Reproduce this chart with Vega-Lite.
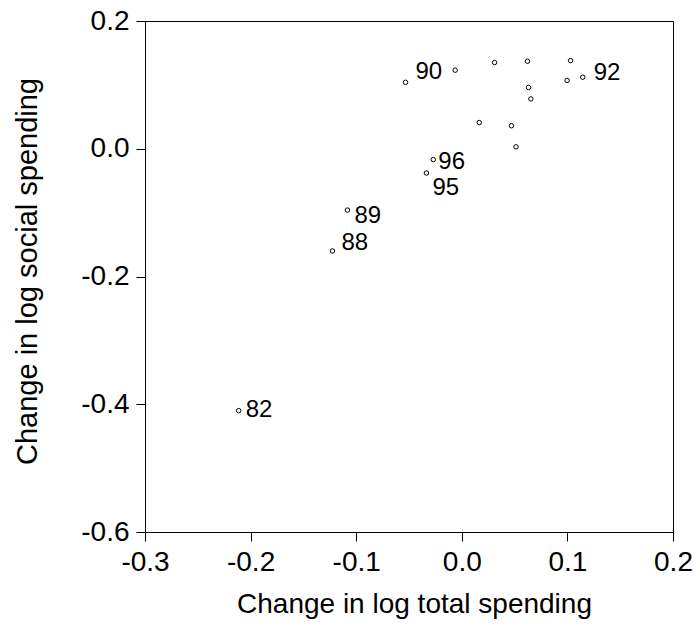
{
  "$schema": "https://vega.github.io/schema/vega-lite/v6.json",
  "autosize": {"type": "none"},
  "padding": {"left": 145, "top": 21, "right": 21, "bottom": 96},
  "width": 528,
  "height": 511,
  "background": "white",
  "config": {
    "font": "Liberation Sans",
    "view": {"stroke": "#000", "strokeWidth": 1},
    "axis": {
      "grid": false,
      "domainColor": "#000",
      "tickColor": "#000",
      "labelColor": "#000",
      "titleColor": "#000",
      "labelFont": "Liberation Sans",
      "titleFont": "Liberation Sans",
      "labelFontSize": 28,
      "titleFontSize": 29,
      "titleFontWeight": "normal",
      "tickSize": 9,
      "labelPadding": 7
    }
  },
  "data": {
    "values": [
      {"total": -0.0533, "social": 0.104, "label": "90"},
      {"total": -0.0063, "social": 0.123, "label": ""},
      {"total": 0.031, "social": 0.135, "label": ""},
      {"total": 0.0622, "social": 0.137, "label": ""},
      {"total": 0.103, "social": 0.138, "label": ""},
      {"total": 0.0997, "social": 0.107, "label": ""},
      {"total": 0.1145, "social": 0.112, "label": "92"},
      {"total": 0.0632, "social": 0.096, "label": ""},
      {"total": 0.0654, "social": 0.078, "label": ""},
      {"total": 0.0165, "social": 0.041, "label": ""},
      {"total": 0.047, "social": 0.036, "label": ""},
      {"total": 0.0513, "social": 0.003, "label": ""},
      {"total": -0.027, "social": -0.017, "label": "96"},
      {"total": -0.0335, "social": -0.038, "label": "95"},
      {"total": -0.1083, "social": -0.096, "label": "89"},
      {"total": -0.1225, "social": -0.16, "label": "88"},
      {"total": -0.2113, "social": -0.41, "label": "82"}
    ]
  },
  "encoding": {
    "x": {
      "field": "total",
      "type": "quantitative",
      "scale": {"domain": [-0.3, 0.2], "nice": false, "zero": false},
      "axis": {
        "title": "Change in log total spending",
        "titleFontSize": 28,
        "titleX": 269,
        "values": [-0.3, -0.2, -0.1, 0, 0.1, 0.2],
        "labelExpr": "replace(format(datum.value, '.1f'), '\u2212', '-')",
        "titlePadding": 14,
        "labelFlush": false,
        "labelOverlap": false
      }
    },
    "y": {
      "field": "social",
      "type": "quantitative",
      "scale": {"domain": [-0.6, 0.2], "nice": false, "zero": false},
      "axis": {
        "title": "Change in log social spending",
        "titleY": 250,
        "values": [-0.6, -0.4, -0.2, 0, 0.2],
        "labelExpr": "replace(format(datum.value, '.1f'), '\u2212', '-')",
        "titlePadding": 38,
        "labelFlush": false,
        "labelOverlap": false
      }
    }
  },
  "layer": [
    {"mark": {"type": "point", "shape": "circle", "size": 20, "filled": false, "stroke": "#000", "strokeWidth": 1, "opacity": 1}},
    {"transform": [{"filter": "datum.label == '82'"}], "mark": {"type": "text", "align": "left", "baseline": "middle", "fontSize": 24, "dx": 7, "dy": -1, "color": "#000"}, "encoding": {"text": {"field": "label"}}},
    {"transform": [{"filter": "datum.label == '88'"}], "mark": {"type": "text", "align": "left", "baseline": "middle", "fontSize": 24, "dx": 9, "dy": -8, "color": "#000"}, "encoding": {"text": {"field": "label"}}},
    {"transform": [{"filter": "datum.label == '89'"}], "mark": {"type": "text", "align": "left", "baseline": "middle", "fontSize": 24, "dx": 7, "dy": 6, "color": "#000"}, "encoding": {"text": {"field": "label"}}},
    {"transform": [{"filter": "datum.label == '90'"}], "mark": {"type": "text", "align": "left", "baseline": "middle", "fontSize": 24, "dx": 10, "dy": -10, "color": "#000"}, "encoding": {"text": {"field": "label"}}},
    {"transform": [{"filter": "datum.label == '92'"}], "mark": {"type": "text", "align": "left", "baseline": "middle", "fontSize": 24, "dx": 11, "dy": -4, "color": "#000"}, "encoding": {"text": {"field": "label"}}},
    {"transform": [{"filter": "datum.label == '96'"}], "mark": {"type": "text", "align": "left", "baseline": "middle", "fontSize": 24, "dx": 5, "dy": 2, "color": "#000"}, "encoding": {"text": {"field": "label"}}},
    {"transform": [{"filter": "datum.label == '95'"}], "mark": {"type": "text", "align": "left", "baseline": "middle", "fontSize": 24, "dx": 6, "dy": 15, "color": "#000"}, "encoding": {"text": {"field": "label"}}}
  ]
}
